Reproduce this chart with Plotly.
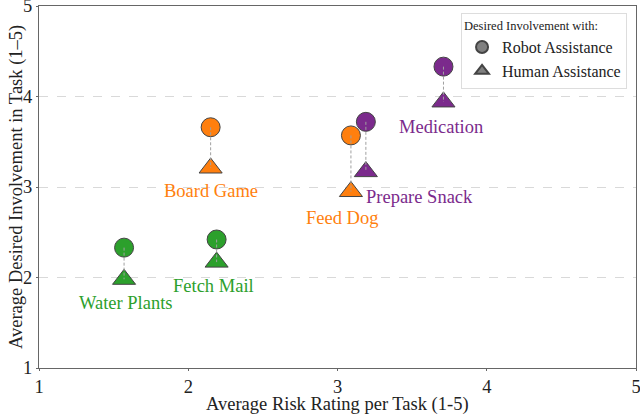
import plotly.graph_objects as go

tasks = ["Water Plants", "Fetch Mail", "Board Game", "Feed Dog", "Prepare Snack", "Medication"]
risk = [1.57, 2.19, 2.15, 3.09, 3.19, 3.71]
robot = [2.33, 2.42, 3.66, 3.57, 3.72, 4.33]
human = [1.98, 2.17, 3.21, 2.95, 3.17, 3.94]
colors = ["#2ca02c", "#2ca02c", "#ff7f0e", "#ff7f0e", "#7b2a8c", "#7b2a8c"]

# label offsets (px) relative to the human-assistance triangle
label_dx = [2, -3, 0, -9, 54, -2]
label_dy = [24, 24, 23, 26, 25, 25]

FONT = "Liberation Serif"

fig = go.Figure()

fig.add_trace(go.Scatter(
    x=risk, y=robot, mode="markers", name="Robot Assistance",
    marker=dict(symbol="circle", size=19, color=colors,
                line=dict(color="#444444", width=1)),
    showlegend=False))
fig.add_trace(go.Scatter(
    x=risk, y=human, mode="markers", name="Human Assistance",
    marker=dict(symbol="triangle-up", size=20, color=colors,
                line=dict(color="#444444", width=1)),
    showlegend=False))

# dashed connectors (drawn over the markers)
for x, r, h in zip(risk, robot, human):
    fig.add_trace(go.Scatter(
        x=[x, x], y=[r, h], mode="lines",
        line=dict(color="#a0a0a0", width=1, dash="3px,2px"),
        showlegend=False, hoverinfo="skip"))

# legend entries in gray
fig.add_trace(go.Scatter(
    x=[None], y=[None], mode="markers", name="Robot Assistance",
    marker=dict(symbol="circle", size=16, color="#808080",
                line=dict(color="#444444", width=1))))
fig.add_trace(go.Scatter(
    x=[None], y=[None], mode="markers", name="Human Assistance",
    marker=dict(symbol="triangle-up", size=16, color="#808080",
                line=dict(color="#444444", width=1))))

for t, x, h, c, dx, dy in zip(tasks, risk, human, colors, label_dx, label_dy):
    fig.add_annotation(x=x, y=h, text=t, showarrow=False,
                       xshift=dx, yshift=-dy,
                       font=dict(family=FONT, size=18.5, color=c))

# axis titles as annotations for tight placement
fig.add_annotation(xref="paper", yref="paper", x=0, y=0.5,
                   xshift=-23, text="Average Desired Involvement in Task (1–5)",
                   textangle=-90, showarrow=False, xanchor="center",
                   font=dict(family=FONT, size=18.5, color="#222222"))
fig.add_annotation(xref="paper", yref="paper", x=0.5, y=0,
                   yshift=-36, text="Average Risk Rating per Task (1-5)",
                   showarrow=False, yanchor="middle",
                   font=dict(family=FONT, size=18.5, color="#222222"))

fig.update_layout(
    width=640, height=416,
    margin=dict(l=39, r=4, t=6, b=48),
    paper_bgcolor="white", plot_bgcolor="white",
    font=dict(family=FONT, size=18.5, color="#222222"),
    legend=dict(
        title=dict(text="Desired Involvement with:", font=dict(size=12.5),
                   side="top"),
        x=0.985, y=0.981, xanchor="right", yanchor="top",
        bgcolor="white", bordercolor="#dddddd", borderwidth=1,
        font=dict(size=16), itemsizing="constant"),
)
fig.update_xaxes(
    range=[1, 5], dtick=1, showgrid=False, zeroline=False,
    showline=True, linecolor="#666666", mirror=True,
    ticks="outside", ticklen=2, tickcolor="#666666",
    ticklabeloverflow="allow", automargin=False)
fig.update_yaxes(
    range=[1, 5], dtick=1, showgrid=True, gridcolor="#d9d9d9",
    griddash="dash", zeroline=False,
    showline=True, linecolor="#666666", mirror=True,
    ticks="outside", ticklen=2, tickcolor="#666666",
    ticklabeloverflow="allow", automargin=False)

# drop the default page margin so the figure fills the window exactly
fig.write_html("out.html",
               config={"displayModeBar": False},
               post_script="document.body.style.margin='0';"
                           "document.body.style.overflow='hidden';")
